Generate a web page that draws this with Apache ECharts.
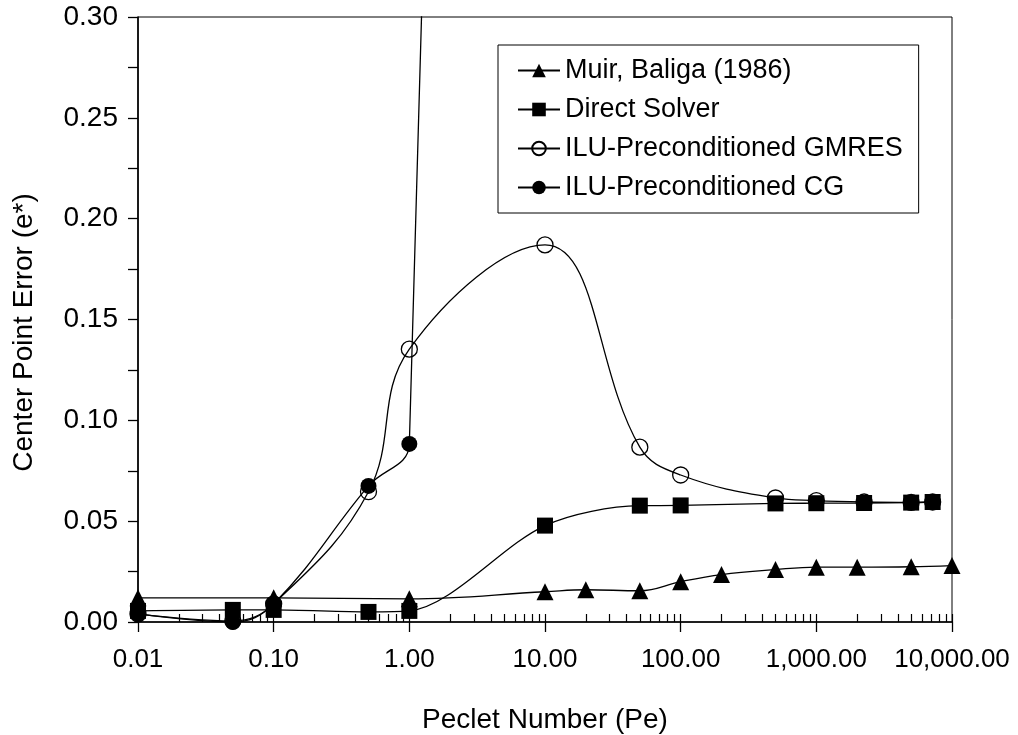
<!DOCTYPE html>
<html>
<head>
<meta charset="utf-8">
<script src="https://cdn.jsdelivr.net/npm/echarts@6/dist/echarts.min.js"></script>
<style>
html,body{margin:0;padding:0;background:#fff;}
#chart{width:1018px;height:735px;}
</style>
</head>
<body>
<div id="chart"></div>
<script>
// ---- Data ----
const seriesNames = ['Muir, Baliga (1986)', 'Direct Solver', 'ILU-Preconditioned GMRES', 'ILU-Preconditioned CG'];

const muirPe  = [0.01, 0.1, 1, 10, 20, 50, 100, 200, 500, 1000, 2000, 5000, 10000];
const muirErr = [0.012, 0.012, 0.0115, 0.015, 0.016, 0.0155, 0.020, 0.0235, 0.026, 0.0272, 0.0272, 0.0274, 0.028];

const directPe  = [0.01, 0.05, 0.1, 0.5, 1, 10, 50, 100, 500, 1000, 2250, 5000, 7200];
const directErr = [0.0055, 0.006, 0.006, 0.005, 0.0055, 0.0478, 0.0577, 0.0578, 0.0588, 0.0589, 0.059, 0.0592, 0.0595];

const gmresPe  = [0.01, 0.05, 0.1, 0.5, 1, 10, 50, 100, 500, 1000, 2250, 5000, 7200];
const gmresErr = [0.004, 0.0005, 0.009, 0.0646, 0.1353, 0.187, 0.0867, 0.0729, 0.0615, 0.0602, 0.0595, 0.0593, 0.0595];

const cgPe  = [0.01, 0.05, 0.1, 0.5, 1, 10];
const cgErr = [0.004, 0.0, 0.009, 0.0675, 0.0883, 2.8];

const xDecades = [0.01, 0.1, 1, 10, 100, 1000, 10000];
const yTicks = [0, 0.05, 0.10, 0.15, 0.20, 0.25, 0.30];

// minor (log) tick positions for decoration
const minorTickValues = [];
for (let d = 0; d < xDecades.length; d++) {
  for (let m = 1; m <= 9; m++) {
    const v = xDecades[d] * m;
    if (v <= xDecades[xDecades.length - 1] * 1.0001) minorTickValues.push(+v.toPrecision(6));
  }
}

function pairs(xs, ys) { return xs.map((x, i) => [x, ys[i]]); }
function fmtX(v) {
  return Number(v).toLocaleString('en-US', {minimumFractionDigits: 2, maximumFractionDigits: 2});
}

const FONT = 'Liberation Sans, Arial, sans-serif';
const chart = echarts.init(document.getElementById('chart'), null, {renderer: 'canvas'});

const lineW = 1.3;
const option = {
  animation: false,
  backgroundColor: '#fff',
  textStyle: {fontFamily: FONT, color: '#000'},
  grid: {left: 138, right: 66, top: 17, bottom: 113, containLabel: false, outerBoundsMode: 'none',
         show: true, borderColor: '#000', borderWidth: 1, backgroundColor: 'transparent'},
  legend: {
    orient: 'vertical',
    left: 498, top: 45,
    itemWidth: 42, itemHeight: 17, itemGap: 12, itemTextGap: 4,
    padding: [12, 16, 12, 19],
    borderColor: '#000', borderWidth: 1,
    textStyle: {fontFamily: FONT, fontSize: 27, color: '#000'},
    data: seriesNames
  },
  xAxis: [{
    type: 'log', logBase: 10, min: xDecades[0], max: xDecades[xDecades.length - 1],
    interval: 1,
    name: 'Peclet Number (Pe)', nameLocation: 'middle', nameGap: 84,
    nameTextStyle: {fontFamily: FONT, fontSize: 28, color: '#000'},
    axisLine: {show: true, onZero: false, lineStyle: {color: '#000', width: 1.6}},
    axisTick: {show: true, inside: false, length: 10, lineStyle: {color: '#000', width: 1.3}},
    axisLabel: {fontFamily: FONT, fontSize: 26, color: '#000', margin: 25, formatter: fmtX},
    splitLine: {show: false}, minorTick: {show: false}
  }, {
    type: 'log', logBase: 10, min: xDecades[0], max: xDecades[xDecades.length - 1],
    position: 'bottom',
    axisLine: {show: false},
    axisTick: {show: true, inside: true, length: 8, customValues: minorTickValues, lineStyle: {color: '#000', width: 1.2}},
    axisLabel: {show: false},
    splitLine: {show: false}
  }],
  yAxis: {
    type: 'value', min: yTicks[0], max: yTicks[yTicks.length - 1], interval: 0.05,
    name: 'Center Point Error (e*)', nameLocation: 'middle', nameGap: 100,
    nameTextStyle: {fontFamily: FONT, fontSize: 28, color: '#000', padding: [0, 26, 0, 0]},
    axisLine: {show: true, lineStyle: {color: '#000', width: 1.6}},
    axisTick: {show: true, inside: false, length: 10, lineStyle: {color: '#000', width: 1.3}},
    minorTick: {show: true, splitNumber: 2, length: 10, lineStyle: {color: '#000', width: 1.3}},
    axisLabel: {fontFamily: FONT, fontSize: 28, color: '#000', margin: 20, formatter: v => v.toFixed(2)},
    splitLine: {show: false}
  },
  series: [
    {
      name: seriesNames[0], type: 'line', data: pairs(muirPe, muirErr), smooth: 0.4,
      symbol: 'triangle', symbolSize: 17, z: 5,
      lineStyle: {color: '#000', width: lineW}, itemStyle: {color: '#000'}
    },
    {
      name: seriesNames[1], type: 'line', data: pairs(directPe, directErr), smooth: 0.3,
      symbol: 'rect', symbolSize: 16, z: 4,
      lineStyle: {color: '#000', width: lineW}, itemStyle: {color: '#000'}
    },
    {
      name: seriesNames[2], type: 'line', data: pairs(gmresPe, gmresErr), smooth: 0.4,
      symbol: 'circle', symbolSize: 16, z: 2,
      lineStyle: {color: '#000', width: lineW},
      itemStyle: {color: 'rgba(255,255,255,0)', borderColor: '#000', borderWidth: 1.3}
    },
    {
      name: seriesNames[3], type: 'line', data: pairs(cgPe, cgErr), smooth: 0.4,
      symbol: 'circle', symbolSize: 16, z: 3, clip: true,
      lineStyle: {color: '#000', width: lineW}, itemStyle: {color: '#000'}
    }
  ]
};
chart.setOption(option);
</script>
</body>
</html>
